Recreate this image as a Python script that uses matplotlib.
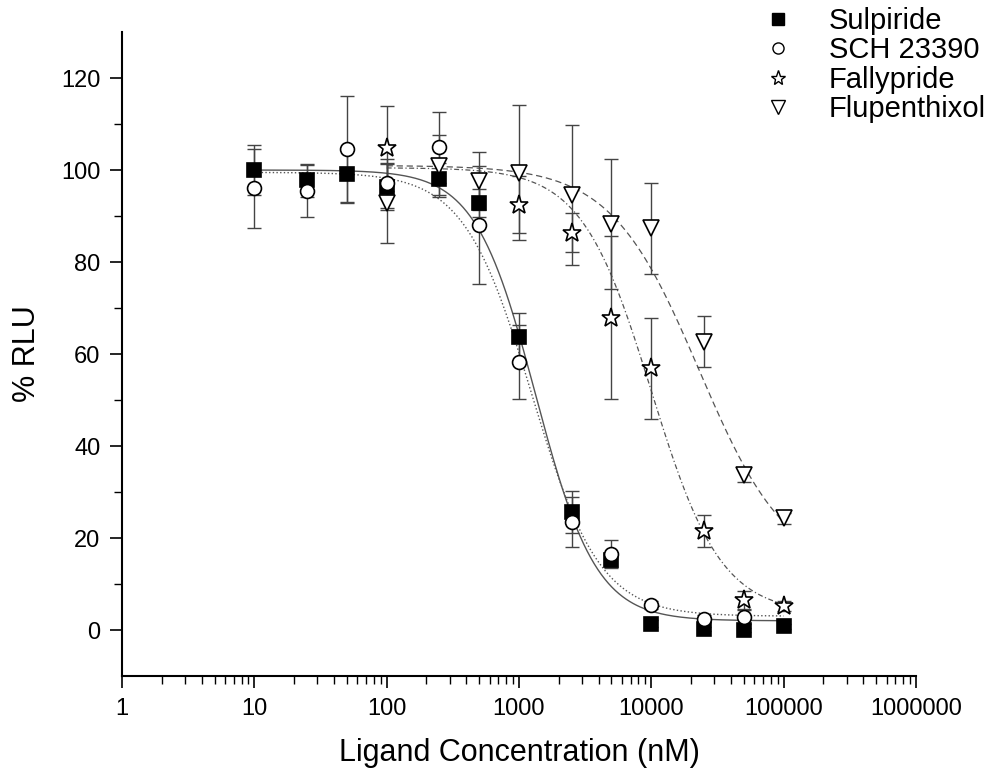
import numpy as np
import matplotlib
matplotlib.use("Agg")
import matplotlib.pyplot as plt
from matplotlib.lines import Line2D
from matplotlib.ticker import FixedLocator, NullFormatter, LogLocator

plt.rcParams['font.family'] = ['Liberation Sans', 'DejaVu Sans']

# ---- data ----
conc = [10, 25, 50, 100, 250, 500, 1000, 2500, 5000, 10000, 25000, 50000, 100000]
sulpiride = [100.0, 97.8, 99.1, 96.4, 98.0, 92.8, 63.7, 25.7, 15.2, 1.4, 0.2, 0.0, 0.8]
sulpiride_err = [5.4, 3.6, 6.0, 5.0, 3.5, 3.0, 5.2, 4.6, 1.5, 0.8, 0.5, 0.5, 0.5]

sch_conc = [10, 25, 50, 100, 250, 500, 1000, 2500, 5000, 10000, 25000, 50000]
sch = [96.0, 95.4, 104.5, 97.1, 104.9, 88.0, 58.3, 23.5, 16.5, 5.4, 2.5, 2.8]
sch_err = [8.6, 5.7, 11.6, 5.4, 7.8, 12.8, 8.1, 5.5, 3.0, 0.8, 0.8, 1.5]

fally_conc = [100, 1000, 2500, 5000, 10000, 25000, 50000, 100000]
fally = [104.7, 92.4, 86.4, 67.9, 56.9, 21.5, 6.5, 5.2]
fally_err = [9.2, 6.2, 4.3, 17.7, 11.0, 3.5, 2.0, 1.0]

flup_conc = [100, 250, 500, 1000, 2500, 5000, 10000, 25000, 50000, 100000]
flup = [92.8, 100.9, 97.7, 99.4, 94.6, 88.3, 87.3, 62.7, 33.7, 24.3]
flup_err = [8.7, 6.7, 6.3, 14.7, 15.2, 14.1, 9.8, 5.5, 1.5, 1.2]

# fitted dose-response parameters (top, bottom, IC50, Hill slope)
fit_sulpiride = (100.0, 2.0, 1340.0, 1.9)
fit_sch = (99.5, 3.0, 1250.0, 1.7)
fit_fally = (100.5, 3.5, 10000.0, 1.65)
fit_flup = (101.0, 12.0, 23000.0, 1.3)

labels = ['Sulpiride', 'SCH 23390', 'Fallypride', 'Flupenthixol']
x_ticks = [1, 10, 100, 1000, 10000, 100000, 1000000]
x_ticklabels = ['1', '10', '100', '1000', '10000', '100000', '1000000']
y_ticks = [0, 20, 40, 60, 80, 100, 120]


def logistic(x, p):
    top, bottom, ic50, h = p
    return bottom + (top - bottom) / (1.0 + (x / ic50) ** h)


fig = plt.figure(figsize=(10.01, 7.79), dpi=100)
ax = fig.add_axes([0.1219, 0.1322, 0.7931, 0.8267])

curve_col = '#555555'
err_col = '#444444'

series = [
    (conc, sulpiride, sulpiride_err, fit_sulpiride, 's', 10, 'black', '-', (10, 100000), 1.0),
    (sch_conc, sch, sch_err, fit_sch, 'o', 10, 'white', ':', (10, 100000), 1.0),
    (fally_conc, fally, fally_err, fit_fally, '*', 14, 'white', (0, (4, 2, 1, 2)), (100, 100000), 0.9),
    (flup_conc, flup, flup_err, fit_flup, 'v', 12, 'white', (0, (5, 3)), (100, 100000), 0.9),
]

for xs, ys, es, p, m, ms, fc, ls, rng, lw in series:
    xx = np.logspace(np.log10(rng[0]), np.log10(rng[1]), 300)
    ax.plot(xx, logistic(xx, p), color=curve_col, ls=ls, lw=lw, zorder=2)

for xs, ys, es, p, m, ms, fc, ls, rng, lw in series:
    ax.errorbar(xs, ys, yerr=es, fmt='none', ecolor=err_col, elinewidth=1.0,
                capsize=5, capthick=1.0, zorder=3)

for xs, ys, es, p, m, ms, fc, ls, rng, lw in series:
    ax.plot(xs, ys, linestyle='none', marker=m, markersize=ms, markerfacecolor=fc,
            markeredgecolor='black', markeredgewidth=1.2, zorder=4)

ax.set_xscale('log')
ax.set_xlim(1, 1000000)
ax.set_ylim(-10, 130)
ax.xaxis.set_major_locator(FixedLocator(x_ticks))
ax.set_xticklabels(x_ticklabels)
ax.xaxis.set_minor_locator(LogLocator(base=10, subs=np.arange(2, 10), numticks=20))
ax.xaxis.set_minor_formatter(NullFormatter())
ax.set_yticks(y_ticks)
ax.set_yticks(np.arange(10, 111, 20), minor=True)

for s in ['top', 'right']:
    ax.spines[s].set_visible(False)
for s in ['left', 'bottom']:
    ax.spines[s].set_linewidth(1.5)

ax.tick_params(axis='both', which='major', direction='out', length=8.5, width=1.2,
               labelsize=17, pad=7)
ax.tick_params(axis='both', which='minor', direction='out', length=5.5, width=1.0)

ax.set_xlabel('Ligand Concentration (nM)', fontsize=22, labelpad=13)
ax.set_ylabel('% RLU', fontsize=22, labelpad=14)

handles = [
    Line2D([], [], ls='none', marker='s', markersize=8, mfc='black', mec='black'),
    Line2D([], [], ls='none', marker='o', markersize=8, mfc='white', mec='black', mew=1.0),
    Line2D([], [], ls='none', marker='*', markersize=11, mfc='white', mec='black', mew=1.0),
    Line2D([], [], ls='none', marker='v', markersize=10, mfc='white', mec='black', mew=1.0),
]
fig.legend(handles, labels, loc='upper left', bbox_to_anchor=(0.751, 1.006),
           frameon=False, fontsize=21, handlelength=1.0, handletextpad=1.25,
           labelspacing=0.05, borderaxespad=0)

fig.savefig('out.png', dpi=100)
